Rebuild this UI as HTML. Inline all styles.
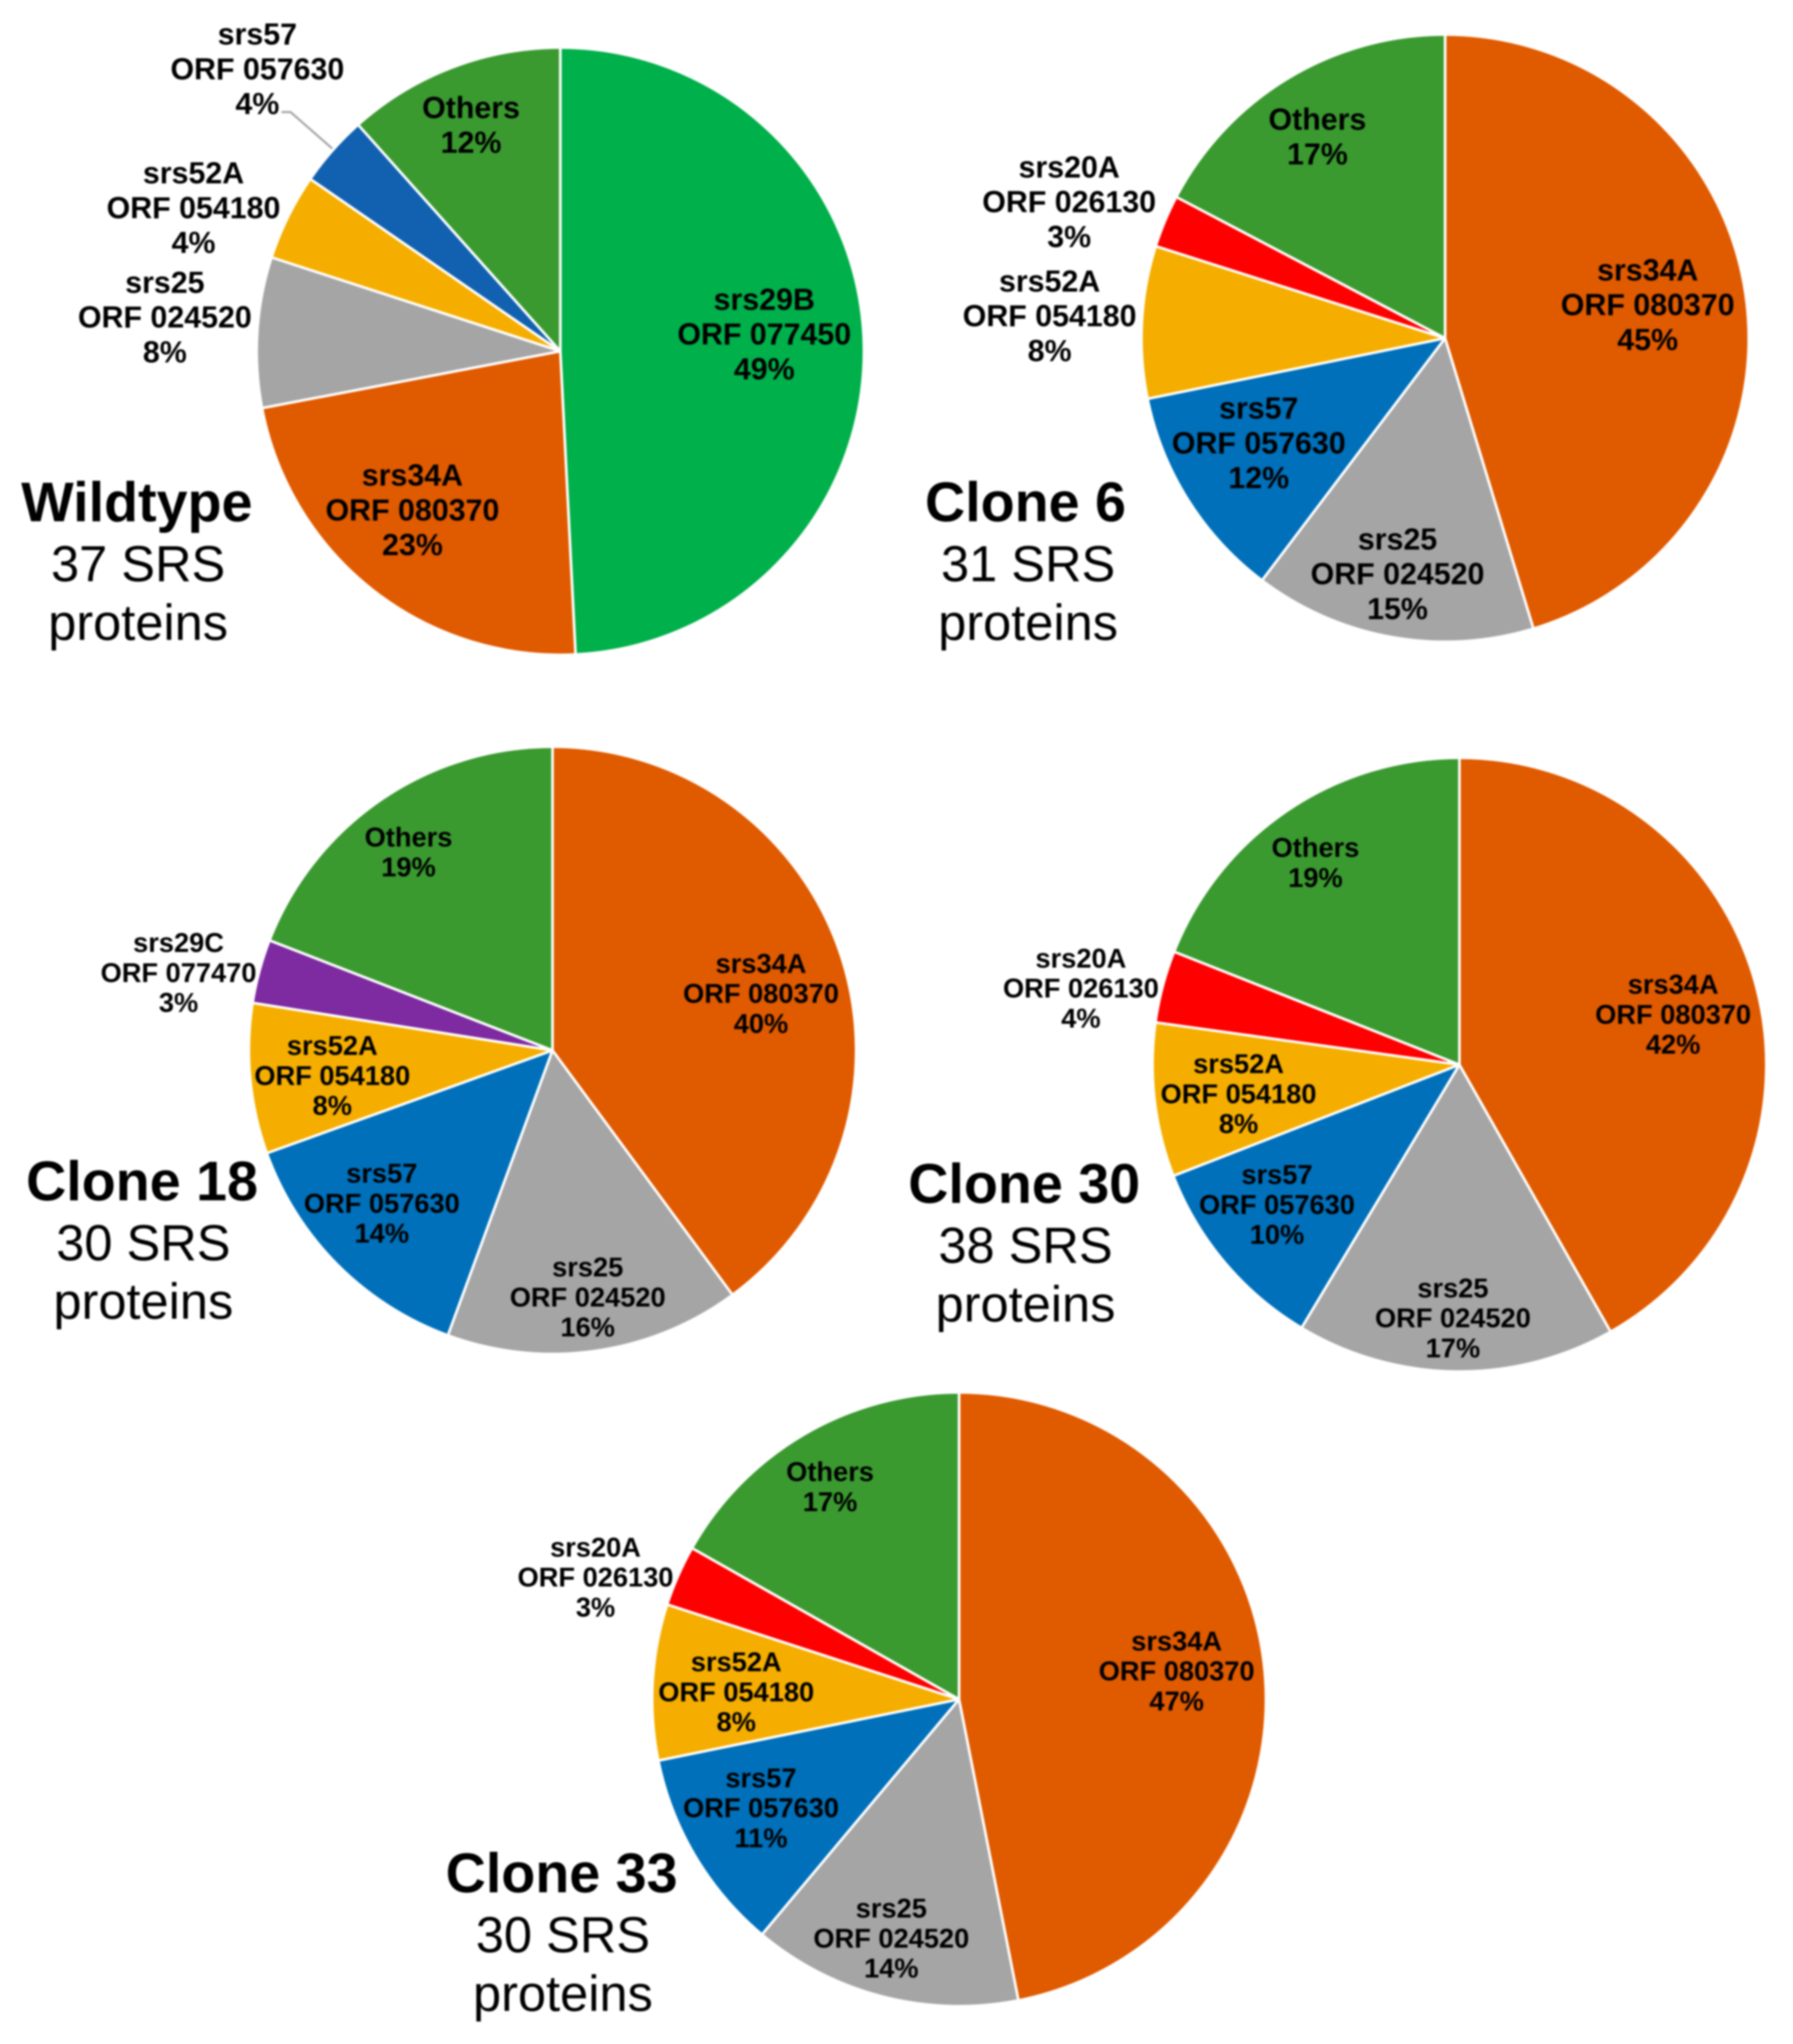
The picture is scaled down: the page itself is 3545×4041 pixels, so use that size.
<!DOCTYPE html>
<html lang="en">
<head>
<meta charset="utf-8">
<title>SRS protein pie charts</title>
<style>
html,body{margin:0;padding:0;background:#fff;}
#figure{display:block;width:3545px;height:4041px;filter:blur(1.8px);font-family:"Liberation Sans",Arial,sans-serif;}
.t-name{font-size:42.7px;font-weight:bold;text-anchor:middle;fill:#000;}
.t-sub{font-size:38.8px;text-anchor:middle;fill:#000;}
</style>
</head>
<body>
<svg id="figure" xmlns="http://www.w3.org/2000/svg" viewBox="0 0 1376 1568.5">
  <rect width="1376" height="1568.5" fill="#ffffff"/>
  <g id="charts"></g>
  <polyline points="216,86 223,86 255,114" fill="none" stroke="#a5a5a5" stroke-width="1.6"/>
  <g>
    <text class="t-name" x="105" y="400">Wildtype</text>
    <text class="t-sub" x="106" y="446">37 SRS</text>
    <text class="t-sub" x="106" y="491">proteins</text>
  </g>
  <g>
    <text class="t-name" x="787" y="400">Clone 6</text>
    <text class="t-sub" x="789" y="446">31 SRS</text>
    <text class="t-sub" x="789" y="491">proteins</text>
  </g>
  <g>
    <text class="t-name" x="109" y="921">Clone 18</text>
    <text class="t-sub" x="110" y="967">30 SRS</text>
    <text class="t-sub" x="110" y="1012">proteins</text>
  </g>
  <g>
    <text class="t-name" x="786" y="923">Clone 30</text>
    <text class="t-sub" x="787" y="969">38 SRS</text>
    <text class="t-sub" x="787" y="1014">proteins</text>
  </g>
  <g>
    <text class="t-name" x="431" y="1452">Clone 33</text>
    <text class="t-sub" x="432" y="1498">30 SRS</text>
    <text class="t-sub" x="432" y="1543">proteins</text>
  </g>
</svg>
<script>
// ---- data ----
const wildtypeCategories = ['srs29B', 'srs34A', 'srs25', 'srs52A', 'srs57', 'Others'];
const wildtypeOrfs = ['ORF 077450', 'ORF 080370', 'ORF 024520', 'ORF 054180', 'ORF 057630', ''];
const wildtypeValues = [49.2, 22.8, 8, 4.6, 3.8, 11.6];
const wildtypePrinted = ['49%', '23%', '8%', '4%', '4%', '12%'];

const clone6Categories = ['srs34A', 'srs25', 'srs57', 'srs52A', 'srs20A', 'Others'];
const clone6Orfs = ['ORF 080370', 'ORF 024520', 'ORF 057630', 'ORF 054180', 'ORF 026130', ''];
const clone6Values = [45.3, 15, 11.5, 8.1, 2.8, 17.3];
const clone6Printed = ['45%', '15%', '12%', '8%', '3%', '17%'];

const clone18Categories = ['srs34A', 'srs25', 'srs57', 'srs52A', 'srs29C', 'Others'];
const clone18Orfs = ['ORF 080370', 'ORF 024520', 'ORF 057630', 'ORF 054180', 'ORF 077470', ''];
const clone18Values = [39.9, 15.7, 13.9, 8, 3.4, 19.1];
const clone18Printed = ['40%', '16%', '14%', '8%', '3%', '19%'];

const clone30Categories = ['srs34A', 'srs25', 'srs57', 'srs52A', 'srs20A', 'Others'];
const clone30Orfs = ['ORF 080370', 'ORF 024520', 'ORF 057630', 'ORF 054180', 'ORF 026130', ''];
const clone30Values = [41.8, 16.8, 10.5, 8.1, 3.8, 19];
const clone30Printed = ['42%', '17%', '10%', '8%', '4%', '19%'];

const clone33Categories = ['srs34A', 'srs25', 'srs57', 'srs52A', 'srs20A', 'Others'];
const clone33Orfs = ['ORF 080370', 'ORF 024520', 'ORF 057630', 'ORF 054180', 'ORF 026130', ''];
const clone33Values = [46.9, 14.2, 10.7, 8.2, 3.2, 16.8];
const clone33Printed = ['47%', '14%', '11%', '8%', '3%', '17%'];

// ---- presentation ----
const geneColors = {
  srs29B: '#00b04a', srs34A: '#e05a00', srs25: '#a5a5a5', srs52A: '#f5ae00',
  srs57: '#0070ba', srs20A: '#ff0000', srs29C: '#7e2aa0', Others: '#3a9a30'
};

const charts = [
  { id: 'wildtype', cats: wildtypeCategories, orfs: wildtypeOrfs, vals: wildtypeValues, printed: wildtypePrinted,
    cx: 430, cy: 269.5, r: 233, font: 23.3, lead: 26.7, blue: '#1261b0',
    spots: [[586.5, 256], [316.5, 391], [126.5, 243], [148.5, 159], [197.5, 52.5], [361.5, 95.5]] },
  { id: 'clone-6', cats: clone6Categories, orfs: clone6Orfs, vals: clone6Values, printed: clone6Printed,
    cx: 1109, cy: 259.5, r: 233, font: 23.3, lead: 26.7,
    spots: [[1264.5, 233.5], [1072.5, 440], [966, 339.5], [805.5, 242], [820.5, 154.5], [1011, 104.5]] },
  { id: 'clone-18', cats: clone18Categories, orfs: clone18Orfs, vals: clone18Values, printed: clone18Printed,
    cx: 424, cy: 806, r: 233, font: 20.9, lead: 23,
    spots: [[584, 762], [451, 995], [293, 923], [255, 825], [137, 746], [313.5, 653.5]] },
  { id: 'clone-30', cats: clone30Categories, orfs: clone30Orfs, vals: clone30Values, printed: clone30Printed,
    cx: 1120, cy: 817, r: 235.5, font: 20.9, lead: 23,
    spots: [[1284, 778], [1115, 1011], [980, 924], [950.5, 839], [829.5, 758], [1009.5, 661.5]] },
  { id: 'clone-33', cats: clone33Categories, orfs: clone33Orfs, vals: clone33Values, printed: clone33Printed,
    cx: 736, cy: 1304, r: 235.5, font: 20.9, lead: 23,
    spots: [[903, 1282], [684, 1487], [584, 1387], [565, 1298], [457, 1210], [637, 1140.5]] }
];

const SVG_NS = 'http://www.w3.org/2000/svg';
const root = document.getElementById('charts');

function polar(chart, fraction) {
  const a = fraction * 2 * Math.PI;
  return [chart.cx + chart.r * Math.sin(a), chart.cy - chart.r * Math.cos(a)];
}

function drawChart(chart) {
  const group = document.createElementNS(SVG_NS, 'g');
  
  
  root.appendChild(group);

  const total = chart.vals.reduce(function (s, v) { return s + v; }, 0);
  let running = 0;
  chart.vals.forEach(function (value, i) {
    const start = running / total;
    running += value;
    const end = running / total;
    const p0 = polar(chart, start);
    const p1 = polar(chart, end);
    const large = end - start > 0.5 ? 1 : 0;
    const gene = chart.cats[i];
    const slice = document.createElementNS(SVG_NS, 'path');
    slice.setAttribute('d', 'M' + chart.cx + ' ' + chart.cy + ' L' + p0[0] + ' ' + p0[1] +
      ' A' + chart.r + ' ' + chart.r + ' 0 ' + large + ' 1 ' + p1[0] + ' ' + p1[1] + ' Z');
    slice.setAttribute('fill', gene === 'srs57' && chart.blue ? chart.blue : geneColors[gene]);
    slice.setAttribute('stroke', '#ffffff');
    slice.setAttribute('stroke-width', '2');
    slice.setAttribute('stroke-linejoin', 'round');
    
    
    group.appendChild(slice);
  });

  chart.cats.forEach(function (gene, i) {
    const lines = chart.orfs[i] ? [gene, chart.orfs[i], chart.printed[i]] : [gene, chart.printed[i]];
    const spot = chart.spots[i];
    const label = document.createElementNS(SVG_NS, 'text');
    label.setAttribute('font-size', chart.font);
    label.setAttribute('font-weight', 'bold');
    label.setAttribute('text-anchor', 'middle');
    label.setAttribute('fill', '#000000');
    
    
    lines.forEach(function (line, k) {
      const tspan = document.createElementNS(SVG_NS, 'tspan');
      tspan.setAttribute('x', spot[0]);
      tspan.setAttribute('y', spot[1] + (k - (lines.length - 1) / 2) * chart.lead + chart.font * 0.36);
      tspan.textContent = line;
      label.appendChild(tspan);
    });
    group.appendChild(label);
  });
}

charts.forEach(drawChart);
</script>
</body>
</html>
